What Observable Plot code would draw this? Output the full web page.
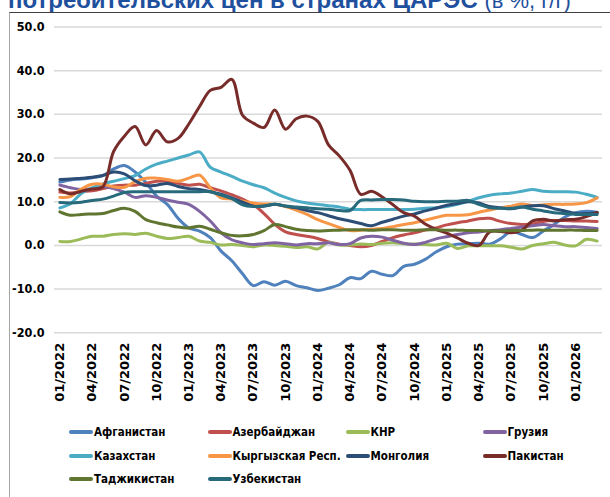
<!DOCTYPE html>
<html><head><meta charset="utf-8">
<script src="https://cdn.jsdelivr.net/npm/d3@7"></script>
<script src="https://cdn.jsdelivr.net/npm/@observablehq/plot@0.6"></script>
<style>
html,body{margin:0;padding:0;background:#fff;}
#wrap{position:relative;width:610px;height:497px;overflow:hidden;background:#fff;}
#title{position:absolute;left:8px;top:-12px;white-space:nowrap;font-family:"Liberation Sans",Arial,sans-serif;font-size:24px;line-height:24px;color:#1f509e;}
#title b{font-weight:bold}
#title span{font-size:22px}
#frame{position:absolute;left:9px;top:12px;width:700px;height:600px;border-left:1px solid #a6a6a6;border-top:1px solid #404040;}
#chart{position:absolute;left:0;top:0;}
.leg{position:absolute;height:14px;display:flex;align-items:center;font-family:"Liberation Sans Narrow","DejaVu Sans",sans-serif;font-stretch:condensed;font-weight:bold;font-size:11.5px;color:#000;white-space:nowrap;}
.leg i{display:inline-block;width:24px;height:4px;border-radius:2px;margin-right:1px;}
.ytl text{font-stretch:condensed;}
</style></head>
<body><div id="wrap">
<div id="title"><b>потребительских цен в странах ЦАРЭС</b> <span>(в %, г/г)</span></div>
<div id="frame"></div>
<div id="chart"></div>
</div>
<script>
const months = ["01/2022","02/2022","03/2022","04/2022","05/2022","06/2022","07/2022","08/2022","09/2022","10/2022","11/2022","12/2022",
"01/2023","02/2023","03/2023","04/2023","05/2023","06/2023","07/2023","08/2023","09/2023","10/2023","11/2023","12/2023",
"01/2024","02/2024","03/2024","04/2024","05/2024","06/2024","07/2024","08/2024","09/2024","10/2024","11/2024","12/2024",
"01/2025","02/2025","03/2025","04/2025","05/2025","06/2025","07/2025","08/2025","09/2025","10/2025","11/2025","12/2025",
"01/2026","02/2026","03/2026"];
const tickLabels = ["01/2022","04/2022","07/2022","10/2022","01/2023","04/2023","07/2023","10/2023","01/2024","04/2024","07/2024","10/2024","01/2025","04/2025","07/2025","10/2025","01/2026"];
const yTicks = [-20,-10,0,10,20,30,40,50];
const countries = ["Афганистан","Азербайджан","КНР","Грузия","Казахстан","Кыргызская Респ.","Монголия","Пакистан","Таджикистан","Узбекистан"];
const colors = ["#4F81BD","#C0504D","#9BBB59","#8064A2","#4BACC6","#F79646","#2C4D75","#772C2A","#5F7530","#276A7C"];

const afghanistan = [14.5,15.0,15.2,15.5,16.0,17.5,18.3,16.8,14.4,11.3, 9.4,6.2,4.0,3.3,1.8,-1.3,-3.5,-6.5,-9.2,-8.3, -9.1,-8.2,-9.2,-9.7,-10.3,-9.8,-9.0,-7.4,-7.6,-5.9, -6.6,-6.9,-4.8,-4.3,-3.2,-1.5,-0.3,0.3,0.4,0.5, 0.3,1.5,3.2,2.5,1.8,3.3,4.8,6.5,7.5,7.8, 7.6];
const azerbaijan = [12.2,12.0,12.3,12.5,13.0,13.6,13.8,13.8,14.2,14.7, 14.7,14.2,13.8,14.0,13.2,12.5,11.6,10.6,9.3,7.3, 4.8,3.1,2.5,2.1,1.6,0.8,0.3,0.0,-0.3,0.0, 0.9,1.8,2.4,2.9,3.5,4.0,4.7,5.2,5.6,6.1, 6.2,5.5,5.0,4.8,4.9,5.5,5.7,5.7,5.6,5.6, 5.5];
const china = [0.9,0.9,1.5,2.1,2.1,2.5,2.7,2.5,2.8,2.1, 1.6,1.8,2.1,1.0,0.7,0.1,0.2,0.0,-0.3,0.1, 0.0,-0.2,-0.5,-0.3,-0.8,0.7,0.1,0.1,0.3,0.2, 0.5,0.6,0.4,0.3,0.2,0.1,0.5,-0.7,-0.1,-0.1, -0.1,-0.1,-0.4,-0.8,0.0,0.4,0.7,0.1,-0.1,1.4, 1.0];
const georgia = [13.8,13.2,12.8,13.0,13.5,13.0,12.2,11.0,11.4,11.0, 10.4,9.9,9.4,7.8,5.6,2.9,1.3,0.6,0.2,0.4, 0.6,0.4,0.1,0.4,0.4,0.6,0.2,0.4,1.7,2.1, 1.9,1.2,0.5,0.2,0.7,1.5,2.0,2.5,2.9,3.1, 3.4,3.6,3.9,4.2,4.5,4.8,4.5,4.3,4.3,4.1, 3.9];
const kazakhstan = [8.6,9.6,11.9,13.2,14.1,14.7,15.3,16.0,17.5,18.6, 19.3,20.0,20.7,21.4,17.9,16.8,15.8,14.7,13.9,13.2, 12.0,11.0,10.2,9.7,9.4,9.1,8.8,8.3,8.2,8.2, 8.2,8.2,8.2,8.3,8.5,8.6,8.9,9.4,10.1,10.9, 11.5,11.8,12.0,12.4,12.8,12.4,12.3,12.3,12.2,11.7, 11.0];
const kyrgyz = [11.0,11.2,12.9,14.0,14.0,13.4,13.3,14.6,15.4,15.4, 15.1,14.7,15.4,16.1,13.2,10.9,10.6,10.1,9.7,9.5, 9.4,8.9,8.1,7.1,5.9,5.0,4.1,3.4,3.5,3.7, 3.9,4.3,4.8,5.2,5.8,6.4,6.9,6.9,7.0,7.6, 8.1,8.6,9.0,9.5,9.1,9.3,9.4,9.4,9.5,9.8, 10.9];
const mongolia = [15.1,15.2,15.4,15.6,16.0,16.8,16.4,14.8,13.7,13.8, 14.2,13.5,13.0,12.8,12.3,11.7,10.9,9.9,9.0,9.0, 9.4,9.0,8.6,8.0,7.5,6.8,6.1,5.6,5.0,4.5, 5.3,6.0,6.7,7.2,7.9,8.5,9.2,9.6,10.0,9.7, 8.9,8.6,8.4,8.8,9.1,9.1,8.4,7.9,7.3,7.3, 7.5];
const pakistan = [12.8,11.8,12.4,12.9,13.4,21.5,25.0,27.2,23.0,26.3, 23.7,24.5,27.8,31.8,35.5,36.2,38.0,29.8,28.0,27.0, 31.0,26.6,29.0,29.6,28.4,23.0,20.5,17.2,11.7,12.4, 11.1,9.3,7.5,6.7,4.9,3.7,2.8,1.7,0.5,0.0, 3.1,3.2,2.9,3.5,5.6,6.0,5.6,5.9,6.0,6.6, 7.5];
const tajikistan = [7.7,6.9,7.1,7.2,7.3,8.0,8.5,7.8,5.9,5.2, 4.7,4.2,4.0,4.4,3.7,2.9,2.3,2.2,2.5,3.4, 4.8,4.3,3.7,3.4,3.3,3.4,3.5,3.6,3.6,3.5, 3.6,3.6,3.5,3.5,3.6,3.6,3.5,3.5,3.4,3.4, 3.3,3.3,3.4,3.4,3.5,3.5,3.5,3.5,3.5,3.4, 3.4];
const uzbekistan = [9.8,9.7,9.9,10.3,10.6,11.3,12.1,12.3,12.3,12.3, 12.3,12.3,12.3,12.3,12.3,11.5,10.7,9.3,8.9,9.0, 9.4,9.0,8.8,8.6,8.4,8.3,8.0,8.0,10.3,10.4, 10.5,10.5,10.4,10.1,10.0,10.0,10.1,10.1,10.3,9.4, 8.6,8.5,8.5,8.8,8.3,7.9,7.5,7.3,7.1,7.1, 7.1];

const series = [afghanistan, azerbaijan, china, georgia, kazakhstan, kyrgyz, mongolia, pakistan, tajikistan, uzbekistan];
const data = countries.flatMap((c, i) => series[i].map((v, m) => ({country: c, m, v})));
const xTicks = tickLabels.map(l => months.indexOf(l));

const chart = Plot.plot({
  width: 610, height: 410,
  marginLeft: 54, marginRight: 8, marginTop: 26.5, marginBottom: 77.7,
  style: {background: "transparent", overflow: "visible"},
  x: {domain: [-0.5, months.length - 0.5], axis: null},
  y: {domain: [-20, 50], axis: null},
  color: {domain: countries, range: colors},
  marks: [
    Plot.gridY(yTicks, {stroke: "#d9d9d9", strokeOpacity: 1, strokeWidth: 1.5}),
    Plot.axisY(yTicks, {tickSize: 0, tickPadding: 10, label: null, tickFormat: d => d.toFixed(1), className: "ytl",
      fontFamily: "'Liberation Sans Narrow','DejaVu Sans',sans-serif", fontWeight: "bold", fontSize: 12.5, fill: "#000"}),
    Plot.axisX(xTicks, {tickSize: 0, tickPadding: 10, label: null, tickRotate: -90, tickFormat: i => months[i],
      fontFamily: "'DejaVu Sans',sans-serif", fontWeight: "bold", fontSize: 13, fill: "#000"}),
    Plot.line(data, {x: "m", y: "v", z: "country", stroke: "country", strokeWidth: 3, curve: "catmull-rom", strokeLinejoin: "round", strokeLinecap: "round"})
  ]
});
document.getElementById("chart").appendChild(chart);

const wrap = document.getElementById("wrap");
const legLeft = [69, 207.5, 345.5, 482.5];
const legTop = [432, 455.5, 479];
countries.forEach((c, i) => {
  const d = document.createElement("div");
  d.className = "leg";
  d.style.left = legLeft[i % 4] + "px";
  d.style.top = (legTop[Math.floor(i / 4)] - 7) + "px";
  d.innerHTML = `<i style="background:${colors[i]}"></i><span>${c}</span>`;
  wrap.appendChild(d);
});
</script>
</body></html>
